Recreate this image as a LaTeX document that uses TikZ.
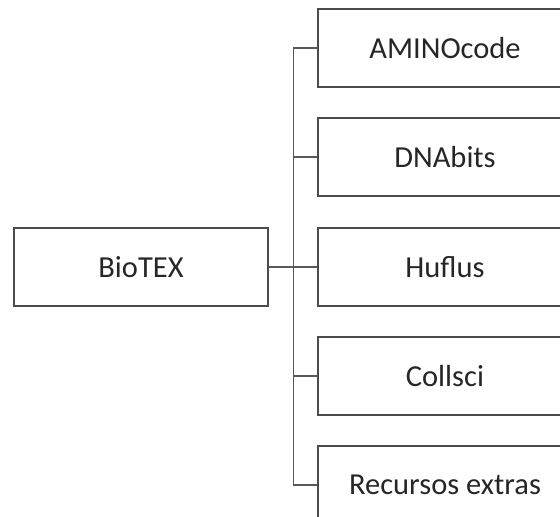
\documentclass[tikz,border=0pt]{standalone}
\usepackage{fontspec}
\setmainfont{Carlito}
\begin{document}
\begin{tikzpicture}[x=1pt,y=-1pt,
  box/.style={draw=black!70, line width=1.1pt, minimum width=254pt, minimum height=78pt,
    inner sep=0pt, font=\fontsize{30.5}{36}\selectfont, text=black!85},
  conn/.style={draw=black!65, line width=1.1pt}]
\useasboundingbox (0,0) rectangle (560,517);
\clip (0,0) rectangle (560,517);
\node[box] (bio) at (141,267) {BioTEX};
\node[box] (a) at (445,48) {AMINOcode};
\node[box] (b) at (445,157) {DNAbits};
\node[box] (c) at (445,267) {Huflus};
\node[box] (d) at (445,376) {Collsci};
\node[box] (e) at (445,485) {Recursos extras};
\draw[conn] (bio.east) -- ++(25,0) coordinate (j);
\foreach \n in {a,b,c,d,e} \draw[conn] (j) |- (\n.west);
\end{tikzpicture}
\end{document}
